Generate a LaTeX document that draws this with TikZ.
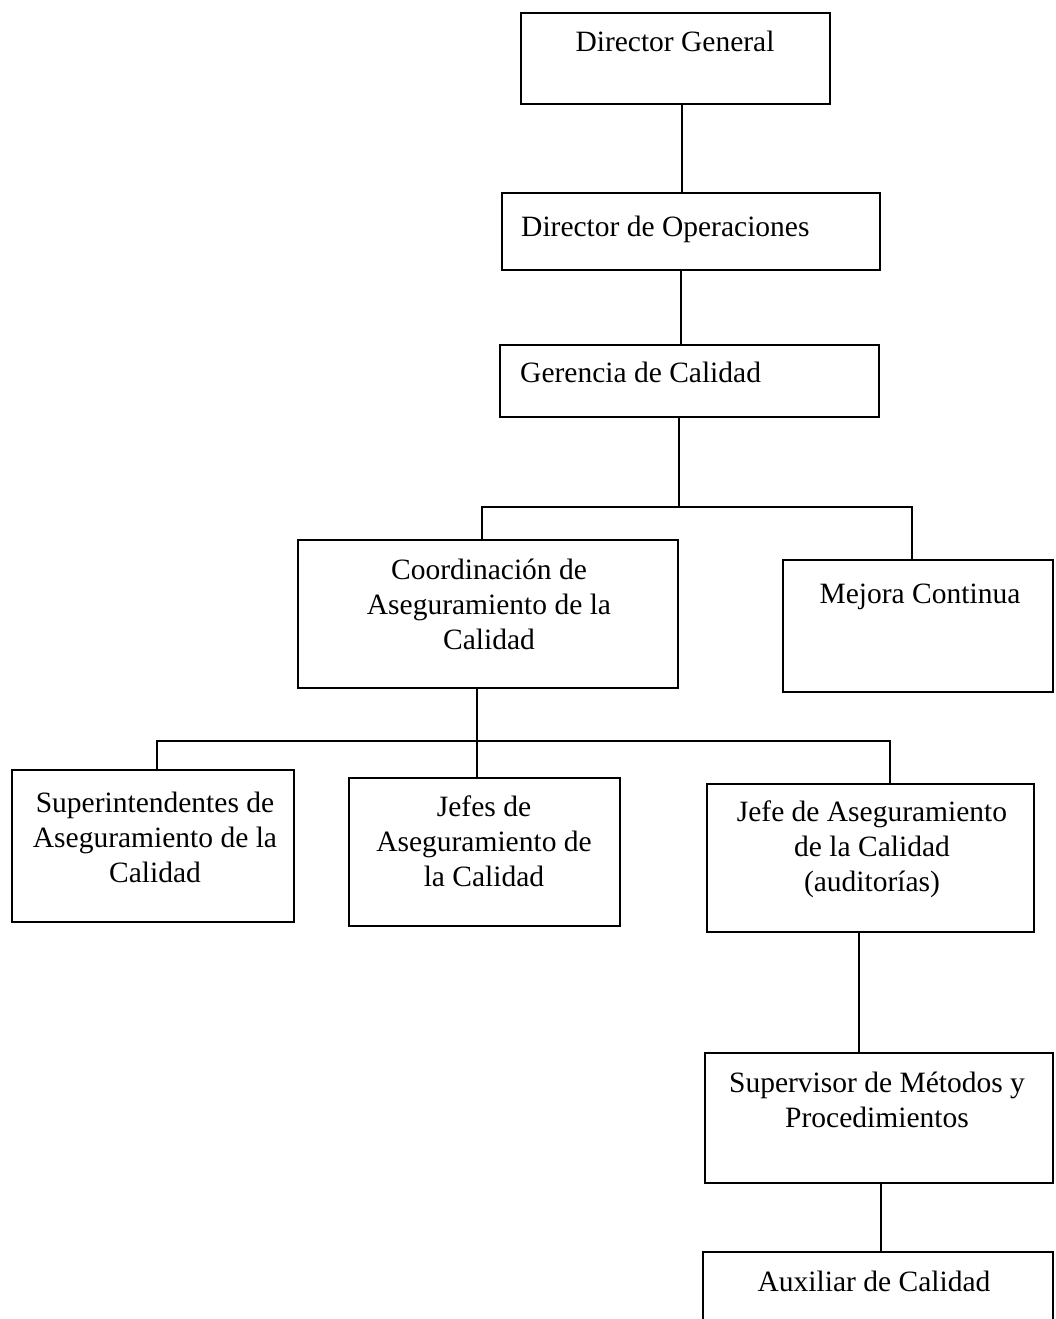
\documentclass[tikz,border=0pt]{standalone}
\usepackage{fontspec}
\setmainfont{Liberation Serif}
\usetikzlibrary{calc,fit}
\begin{document}
\begin{tikzpicture}[x=1pt,y=-1pt,
  box/.style={draw, line width=2.6pt, inner sep=0pt},
  lbl/.style={font=\fontsize{29.5}{35}\selectfont, align=center, inner sep=0pt},
  conn/.style={line width=2.6pt}]
\useasboundingbox (0,0) rectangle (1055,1319);

% boxes
\node[box, fit={(521,13) (830,104)}] (dg) {};
\node[box, fit={(502,193) (880,270)}] (do) {};
\node[box, fit={(500,345) (879,417)}] (gc) {};
\node[box, fit={(298,540) (678,688)}] (co) {};
\node[box, fit={(783,560) (1053,692)}] (mc) {};
\node[box, fit={(12,770) (294,922)}] (su) {};
\node[box, fit={(349,778) (620,926)}] (je) {};
\node[box, fit={(707,784) (1034,932)}] (ja) {};
\node[box, fit={(705,1053) (1053,1183)}] (sv) {};
\node[box, fit={(703,1252) (1053,1345)}] (ax) {};

% texts
\node[lbl, anchor=base] (dg-t) at (675,52) {Director General};
\node[lbl, anchor=base west] (do-t) at (521,236) {Director de Operaciones};
\node[lbl, anchor=base west] (gc-t) at (520,382) {Gerencia de Calidad};
\node[lbl] (co-t) at (489,604) {Coordinación de\\Aseguramiento de la\\Calidad};
\node[lbl, anchor=base] (mc-t) at (920,603) {Mejora Continua};
\node[lbl] (su-t) at (155,837) {Superintendentes de\\Aseguramiento de la\\Calidad};
\node[lbl] (je-t) at (484,841) {Jefes de\\Aseguramiento de\\la Calidad};
\node[lbl] (ja-t) at (872,849) {Jefe de Aseguramiento\\de la Calidad\\(auditorías)};
\node[lbl] (sv-t) at (877,1100) {Supervisor de Métodos y\\Procedimientos};
\node[lbl, anchor=base] (ax-t) at (874,1291) {Auxiliar de Calidad};

% junction points
\coordinate (v1) at (682,150);
\coordinate (v2) at (681,300);
\coordinate (j1) at (679,507);
\coordinate (k1) at (482,507);
\coordinate (k2) at (912,507);
\coordinate (s1) at (157,741);
\coordinate (s2) at (477,741);
\coordinate (s3) at (890,741);
\coordinate (v3) at (859,1000);
\coordinate (v4) at (881,1220);

% connectors
\draw[conn] (dg.south -| v1) -- (do.north -| v1);
\draw[conn] (do.south -| v2) -- (gc.north -| v2);
\draw[conn] (gc.south -| j1) -- (j1);
\draw[conn] (co.north -| k1) -- (k1) -- (k2) -- (mc.north -| k2);
\draw[conn] (co.south -| s2) -- (s2);
\draw[conn] (su.north -| s1) -- (s1) -- (s3) -- (ja.north -| s3);
\draw[conn] (s2) -- (je.north -| s2);
\draw[conn] (ja.south -| v3) -- (sv.north -| v3);
\draw[conn] (sv.south -| v4) -- (ax.north -| v4);
\end{tikzpicture}
\end{document}
